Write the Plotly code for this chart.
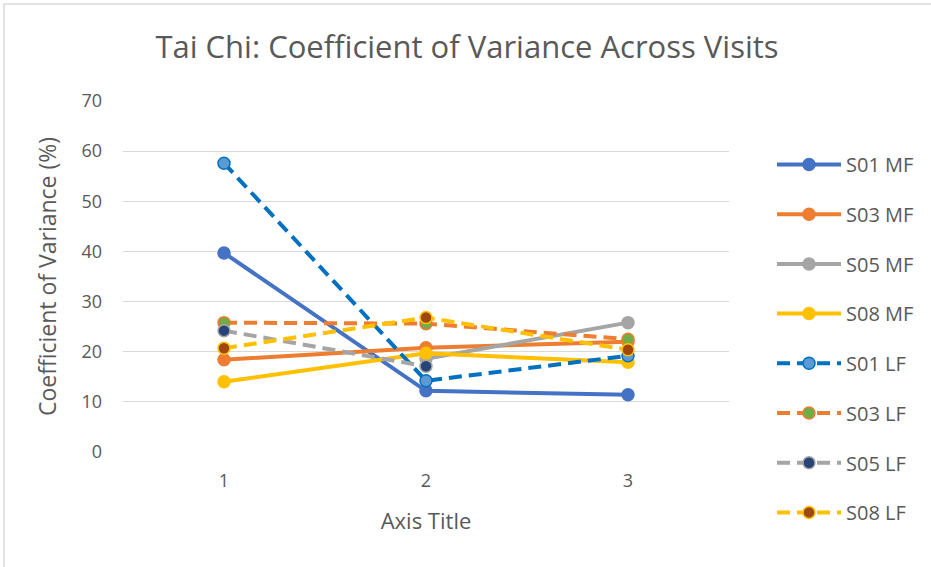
import plotly.graph_objects as go

visits = [1, 2, 3]
s01_mf = [39.7, 12.2, 11.4]
s03_mf = [18.4, 20.8, 22.0]
s05_mf = [None, 18.6, 25.8]
s08_mf = [14.0, 19.7, 17.9]
s01_lf = [57.6, 14.2, 19.2]
s03_lf = [25.8, 25.6, 22.5]
s05_lf = [24.2, 17.1, None]
s08_lf = [20.7, 26.8, 20.4]

series = [
    ("S01 MF", s01_mf, "#4472C4", "#4472C4", "solid"),
    ("S03 MF", s03_mf, "#ED7D31", "#ED7D31", "solid"),
    ("S05 MF", s05_mf, "#A5A5A5", "#A5A5A5", "solid"),
    ("S08 MF", s08_mf, "#FFC000", "#FFC000", "solid"),
    ("S01 LF", s01_lf, "#0070C0", "#5B9BD5", "dash"),
    ("S03 LF", s03_lf, "#ED7D31", "#70AD47", "dash"),
    ("S05 LF", s05_lf, "#A5A5A5", "#264478", "dash"),
    ("S08 LF", s08_lf, "#FFC000", "#9E480E", "dash"),
]

fig = go.Figure()
for i, (name, vals, lc, mc, dash) in enumerate(series):
    fig.add_trace(go.Scatter(
        x=visits, y=vals, name=name, mode="lines+markers",
        legendgroup=f"g{i}",
        line=dict(color=lc, width=4, dash=("13px,7px" if dash == "dash" else "solid")),
        marker=dict(size=12, color=mc, line=dict(color=lc, width=1.5)),
        connectgaps=False,
    ))

W, H = 931, 567
L, R, T, B = 123, 729, 101, 452
pw, ph = R - L, B - T
FONT = "'Open Sans', Lato, sans-serif"

fig.update_layout(
    width=W, height=H,
    margin=dict(l=L, r=W - R, t=T, b=H - B, autoexpand=False),
    paper_bgcolor="white", plot_bgcolor="white",
    font=dict(family=FONT, color="#595959", size=18),
    title=dict(text="Tai Chi: Coefficient of Variance Across Visits",
               x=467 / W, xanchor="center", y=1 - 47 / H, yanchor="middle",
               font=dict(size=31, color="#595959")),
    xaxis=dict(range=[0.5, 3.5], tickvals=visits, ticktext=["1", "2", "3"],
               showgrid=False, zeroline=False, showline=False, automargin=False,
               ticks="", ticklabelstandoff=16, tickfont=dict(size=18),
               title=dict(text="Axis Title", font=dict(size=22), standoff=22)),
    yaxis=dict(range=[0, 70], dtick=10, showgrid=True, gridcolor="#D9D9D9", gridwidth=1,
               zeroline=False, showline=False, ticks="", ticklabelstandoff=20, automargin=False,
               tickfont=dict(size=18),
               title=dict(text="Coefficient of Variance (%)", font=dict(size=23), standoff=18)),
    legend=dict(x=(772 - L) / pw, xanchor="left", y=(B - 145) / ph, yanchor="top",
                font=dict(size=20, color="#595959"), tracegroupgap=20.7,
                traceorder="grouped", itemwidth=64, bgcolor="rgba(0,0,0,0)",
                maxheight=440),
    showlegend=True,
)

fig.add_shape(type="rect", xref="paper", yref="paper",
              x0=(4 - L) / pw, x1=(W + 20 - L) / pw,
              y0=(B - (H + 20)) / ph, y1=(B - 4) / ph,
              line=dict(color="#D9D9D9", width=1.5), fillcolor="rgba(0,0,0,0)", layer="below")

fig.write_html("out.html", config={"displayModeBar": False},
               post_script="document.body.style.margin='0';")
